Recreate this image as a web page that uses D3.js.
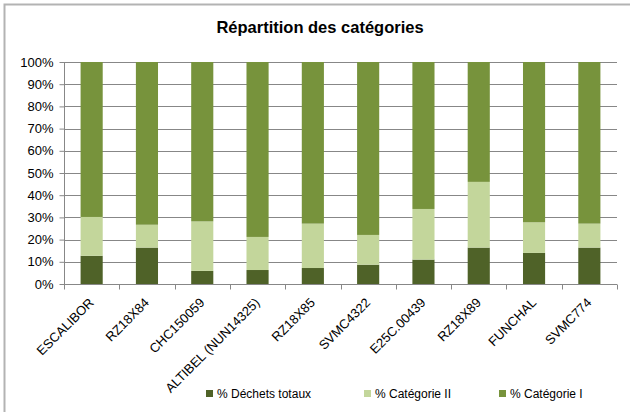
<!DOCTYPE html>
<html>
<head>
<meta charset="utf-8">
<script src="https://cdn.jsdelivr.net/npm/d3@7"></script>
<style>
    body { margin: 0; background: #fff; }
    text { font-family: "Liberation Sans", Arial, sans-serif; fill: #000; }
</style>
</head>
<body>
<div id="chart"></div>
<script>
// values (percent of total)
let categories = ["ESCALIBOR", "RZ18X84", "CHC150059", "ALTIBEL (NUN14325)", "RZ18X85",
                  "SVMC4322", "E25C.00439", "RZ18X89", "FUNCHAL", "SVMC774"];
let dechetsTotaux = [12.7, 16.4, 5.9, 6.3, 7.2, 8.7, 11.0, 16.4, 14.0, 16.4];
let categorieII   = [17.5, 10.3, 22.3, 14.9, 20.0, 13.4, 22.8, 29.6, 13.8, 10.8];
let categorieI    = [69.8, 73.3, 71.8, 78.8, 72.8, 77.9, 66.2, 54.0, 72.2, 72.8];
let seriesNames = ["% Déchets totaux", "% Catégorie II", "% Catégorie I"];
let yTicks = [0, 10, 20, 30, 40, 50, 60, 70, 80, 90, 100];

let colors = ["#4f6228", "#c3d69b", "#77933c"];

let W = 630, H = 412;
let margin = {top: 62, right: 13, bottom: 128, left: 64};
let width = W - margin.left - margin.right,
    height = H - margin.top - margin.bottom;

let svg = d3.select("#chart")
    .append("svg")
    .attr("width", W)
    .attr("height", H);

// chart border (only top/left visible in the original)
svg.append("rect")
    .attr("x", 4.5)
    .attr("y", 4.5)
    .attr("width", 700)
    .attr("height", 500)
    .attr("fill", "none")
    .attr("stroke", "#b3b3b3")
    .attr("stroke-width", 2)

svg.append("text")
    .text("Répartition des catégories")
    .attr("x", 320)
    .attr("y", 33)
    .attr("text-anchor", "middle")
    .style("font-size", "16.5px")
    .style("font-weight", "bold")

let g = svg.append("g")
    .attr("transform", "translate(" + margin.left + "," + margin.top + ")")

let xScale = d3.scaleBand()
    .domain(categories)
    .range([0, width])
    .paddingInner(0.6)
    .paddingOuter(0.3);

let xTickScale = d3.scaleLinear()
    .domain([0, categories.length])
    .range([0, width]);

let yScale = d3.scaleLinear()
    .domain([0, 100])
    .range([height, 0]);

// gridlines
g.selectAll(".grid")
    .data(yTicks.slice(1))
    .enter()
    .append("line")
    .attr("x1", 0)
    .attr("x2", width)
    .attr("y1", d => Math.round(yScale(d)) + 0.5)
    .attr("y2", d => Math.round(yScale(d)) + 0.5)
    .attr("stroke", "#878787")
    .attr("stroke-width", 1)

// stacked bars
let table = categories.map((c, i) => ({
    cat: c, s0: dechetsTotaux[i], s1: categorieII[i], s2: categorieI[i]
}));
let stack = d3.stack().keys(["s0", "s1", "s2"])(table);

g.selectAll(".layer")
    .data(stack)
    .enter()
    .append("g")
    .attr("fill", (d, i) => colors[i])
    .selectAll("rect")
    .data(d => d)
    .enter()
    .append("rect")
    .attr("x", d => xScale(d.data.cat))
    .attr("width", xScale.bandwidth())
    .attr("y", d => yScale(Math.min(d[1], 100)))
    .attr("height", d => yScale(d[0]) - yScale(Math.min(d[1], 100)))

// y axis
let yAxis = d3.axisLeft(yScale)
    .tickValues(yTicks)
    .tickSize(5)
    .tickPadding(6)
    .tickFormat(d => d + "%");

let ya = g.append("g")
    .attr("transform", "translate(0.5,0)")
    .call(yAxis)
ya.select(".domain").attr("stroke", "#878787").attr("d", "M0," + height + "V0")
ya.selectAll(".tick line").attr("stroke", "#878787")
ya.selectAll(".tick text").style("font-size", "13px")

// x axis: ticks at category boundaries
let xa = g.append("g")
    .attr("transform", "translate(0," + (height + 0.5) + ")")
xa.append("line")
    .attr("x1", 0)
    .attr("x2", width)
    .attr("stroke", "#878787")
xa.selectAll(".xtick")
    .data(d3.range(categories.length + 1))
    .enter()
    .append("line")
    .attr("x1", d => Math.round(xTickScale(d)) + 0.5)
    .attr("x2", d => Math.round(xTickScale(d)) + 0.5)
    .attr("y1", 0)
    .attr("y2", 5)
    .attr("stroke", "#878787")

xa.selectAll(".xlabel")
    .data(categories)
    .enter()
    .append("text")
    .text(d => d)
    .attr("text-anchor", "end")
    .attr("transform", d => "translate(" + (xScale(d) + xScale.bandwidth() / 2 + 3) + ",19) rotate(-45)")
    .style("font-size", "13px")

// legend
let legendX = [206, 364, 499];
let legend = svg.selectAll(".legend")
    .data(seriesNames)
    .enter()
    .append("g")
    .attr("transform", (d, i) => "translate(" + legendX[i] + ",393)")
legend.append("rect")
    .attr("x", 0)
    .attr("y", -3)
    .attr("width", 7)
    .attr("height", 7)
    .attr("fill", (d, i) => colors[i])
legend.append("text")
    .text(d => d)
    .attr("x", 11)
    .attr("y", 5)
    .style("font-size", "12px")
</script>
</body>
</html>
